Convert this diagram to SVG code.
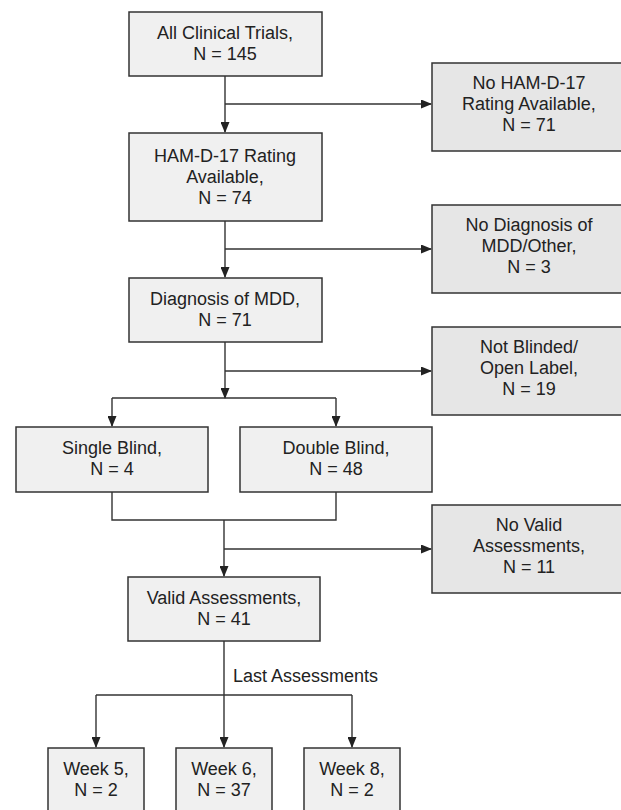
<svg xmlns="http://www.w3.org/2000/svg" width="621" height="810" viewBox="0 0 621 810">
<style>
.box{fill:#f0f0f0;stroke:#333;stroke-width:1.5}
.rbox{fill:#e6e6e6;stroke:#333;stroke-width:1.5}
.t{font-family:"Liberation Sans",Arial,sans-serif;font-size:18px;fill:#222;text-anchor:middle}
.l{font-family:"Liberation Sans",Arial,sans-serif;font-size:18px;fill:#222}
.c{fill:none;stroke:#333;stroke-width:1.4}
</style>
<defs>
<marker id="ah" markerWidth="11" markerHeight="9" refX="10" refY="4.5" orient="auto" markerUnits="userSpaceOnUse">
<path d="M0,0 L11,4.5 L0,9 z" fill="#222"/>
</marker>
</defs>
<rect width="621" height="810" fill="#fff"/>
<g id="connectors">
<path class="c" d="M225,76 V132" marker-end="url(#ah)"/>
<path class="c" d="M225,104 H431" marker-end="url(#ah)"/>
<path class="c" d="M225,221 V277" marker-end="url(#ah)"/>
<path class="c" d="M225,249 H431" marker-end="url(#ah)"/>
<path class="c" d="M225,342 V398" marker-end="url(#ah)"/>
<path class="c" d="M225,371 H431" marker-end="url(#ah)"/>
<path class="c" d="M112,398 H336"/>
<path class="c" d="M112,398 V426" marker-end="url(#ah)"/>
<path class="c" d="M336,398 V426" marker-end="url(#ah)"/>
<path class="c" d="M112,492 V520 H336 V492"/>
<path class="c" d="M224,520 V576" marker-end="url(#ah)"/>
<path class="c" d="M224,549 H431" marker-end="url(#ah)"/>
<path class="c" d="M224,641 V747" marker-end="url(#ah)"/>
<path class="c" d="M96,695 H352"/>
<path class="c" d="M96,695 V747" marker-end="url(#ah)"/>
<path class="c" d="M352,695 V747" marker-end="url(#ah)"/>
<text class="l" x="233" y="682">Last Assessments</text>
</g>
<g id="all-trials">
<rect class="box" x="129" y="12" width="193" height="64"/>
<text class="t" x="225" y="38.5">All Clinical Trials,</text>
<text class="t" x="225" y="59.5">N = 145</text>
</g>
<g id="no-hamd">
<rect class="rbox" x="432" y="63" width="200" height="88"/>
<text class="t" x="529" y="89">No HAM-D-17</text>
<text class="t" x="529" y="110">Rating Available,</text>
<text class="t" x="529" y="131">N = 71</text>
</g>
<g id="hamd">
<rect class="box" x="129" y="133" width="193" height="88"/>
<text class="t" x="225" y="162">HAM-D-17 Rating</text>
<text class="t" x="225" y="183">Available,</text>
<text class="t" x="225" y="204">N = 74</text>
</g>
<g id="no-diagnosis">
<rect class="rbox" x="432" y="205" width="200" height="88"/>
<text class="t" x="529" y="231">No Diagnosis of</text>
<text class="t" x="529" y="252">MDD/Other,</text>
<text class="t" x="529" y="273">N = 3</text>
</g>
<g id="mdd">
<rect class="box" x="129" y="278" width="193" height="64"/>
<text class="t" x="225" y="304.5">Diagnosis of MDD,</text>
<text class="t" x="225" y="325.5">N = 71</text>
</g>
<g id="not-blinded">
<rect class="rbox" x="432" y="327" width="200" height="88"/>
<text class="t" x="529" y="353">Not Blinded/</text>
<text class="t" x="529" y="374">Open Label,</text>
<text class="t" x="529" y="395">N = 19</text>
</g>
<g id="single-blind">
<rect class="box" x="16" y="427" width="192" height="65"/>
<text class="t" x="112" y="453.5">Single Blind,</text>
<text class="t" x="112" y="474.5">N = 4</text>
</g>
<g id="double-blind">
<rect class="box" x="240" y="427" width="192" height="65"/>
<text class="t" x="336" y="453.5">Double Blind,</text>
<text class="t" x="336" y="474.5">N = 48</text>
</g>
<g id="no-valid">
<rect class="rbox" x="432" y="505" width="200" height="88"/>
<text class="t" x="529" y="531">No Valid</text>
<text class="t" x="529" y="552">Assessments,</text>
<text class="t" x="529" y="573">N = 11</text>
</g>
<g id="valid">
<rect class="box" x="128" y="577" width="192" height="64"/>
<text class="t" x="224" y="603.5">Valid Assessments,</text>
<text class="t" x="224" y="624.5">N = 41</text>
</g>
<g id="week5">
<rect class="box" x="48" y="748" width="96" height="75"/>
<text class="t" x="96" y="774.5">Week 5,</text>
<text class="t" x="96" y="795.5">N = 2</text>
</g>
<g id="week6">
<rect class="box" x="176" y="748" width="96" height="75"/>
<text class="t" x="224" y="774.5">Week 6,</text>
<text class="t" x="224" y="795.5">N = 37</text>
</g>
<g id="week8">
<rect class="box" x="304" y="748" width="96" height="75"/>
<text class="t" x="352" y="774.5">Week 8,</text>
<text class="t" x="352" y="795.5">N = 2</text>
</g>
</svg>
